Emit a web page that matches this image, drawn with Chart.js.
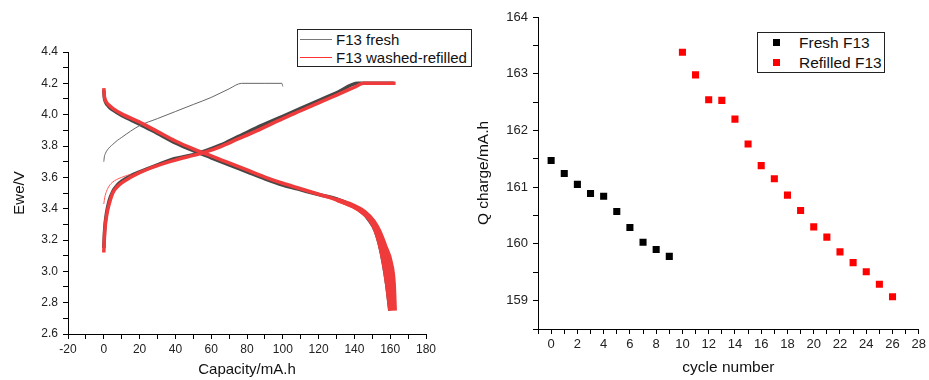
<!DOCTYPE html>
<html>
<head>
<title>F13 fresh vs washed-refilled</title>
<script src="https://cdn.jsdelivr.net/npm/chart.js"></script>
<style>
  body { margin: 0; width: 929px; height: 380px; position: relative; background: #fff; overflow: hidden;
         font-family: "Liberation Sans", Arial, sans-serif; color: #111; }
  #leftBox { position: absolute; left: 0; top: 0; width: 470px; height: 380px; }
  #rightBox { position: absolute; left: 470px; top: 0; width: 459px; height: 380px; }
  .legend { position: absolute; box-sizing: border-box; border: 1px solid #222; background: #fff; z-index: 2; }
  .legend .row { position: absolute; left: 0; height: 18px; line-height: 18px; white-space: nowrap; }
  .legend .line { position: absolute; display: block; left: 2px; width: 32px; top: 8px; height: 1px; }
  .legend .sq { position: absolute; display: block; left: 15px; top: 5px; width: 7px; height: 7px; }
</style>
</head>
<body>
<div id="leftBox"><canvas id="capChart" width="470" height="380"></canvas></div>
<div id="rightBox"><canvas id="cycleChart" width="459" height="380"></canvas></div>

<!-- legends -->
<div class="legend" style="left:297px; top:29px; width:175px; height:38px; font-size:15px;">
  <div class="row" style="top:1px;"><span class="line" style="background-color:#777;"></span><span style="position:absolute; left:38px;">F13 fresh</span></div>
  <div class="row" style="top:19px;"><span class="line" style="background-color:#f33;"></span><span style="position:absolute; left:38px;">F13 washed-refilled</span></div>
</div>
<div class="legend" style="left:757px; top:32px; width:128px; height:41px; font-size:15.5px;">
  <div class="row" style="top:1px;"><span class="sq" style="background-color:#000;"></span><span style="position:absolute; left:41px;">Fresh F13</span></div>
  <div class="row" style="top:21px;"><span class="sq" style="background-color:#f00;"></span><span style="position:absolute; left:41px;">Refilled F13</span></div>
</div>

<script>
// ---- left panel: voltage vs capacity ----
// first charge, fresh cell (thin line)
const freshFirstCap = [0, 0.3, 1, 2, 3.5, 5, 7.5, 10, 15, 20, 30, 40, 50, 60, 70, 77, 90, 99.5, 100];
const freshFirstV   = [3.70, 3.73, 3.755, 3.775, 3.795, 3.81, 3.835, 3.855, 3.895, 3.93, 3.975, 4.02, 4.065, 4.11, 4.165, 4.20, 4.20, 4.20, 4.18];

// fresh cycles, charge + discharge
const freshChargeCap = [0, 0.5, 1.5, 3, 5, 7.5, 10, 15, 20, 30, 40, 50, 57, 65, 75, 85, 100, 110, 120, 130, 142, 150, 162];
const freshChargeV   = [3.15, 3.27, 3.37, 3.45, 3.51, 3.55, 3.575, 3.61, 3.635, 3.68, 3.72, 3.745, 3.77, 3.805, 3.86, 3.915, 3.99, 4.04, 4.09, 4.14, 4.20, 4.20, 4.20];
const freshDisCap = [0, 0.3, 1, 2.5, 5, 10, 20, 30, 40, 50, 60, 70, 80, 90, 100, 110, 120, 130, 138, 144, 148, 151.6, 154, 156.2, 158, 159.8];
const freshDisV   = [4.155, 4.11, 4.08, 4.055, 4.03, 3.995, 3.94, 3.88, 3.82, 3.77, 3.725, 3.68, 3.635, 3.59, 3.55, 3.52, 3.49, 3.462, 3.425, 3.38, 3.33, 3.26, 3.17, 3.05, 2.92, 2.75];

// first charge after washing / refilling (thin line)
const refFirstCap = [0, 0.5, 1.5, 3, 5, 7, 10, 15];
const refFirstV   = [3.43, 3.47, 3.51, 3.545, 3.57, 3.585, 3.60, 3.62];

// refilled cycles, charge + discharge
const refChargeCap = [0, 0.5, 1.5, 3, 5, 7.5, 10, 15, 20, 30, 40, 50, 57, 65, 75, 85, 100, 110, 120, 130, 140, 145, 163];
const refChargeV   = [3.12, 3.25, 3.35, 3.43, 3.50, 3.54, 3.565, 3.60, 3.63, 3.675, 3.71, 3.74, 3.762, 3.795, 3.845, 3.895, 3.975, 4.025, 4.075, 4.125, 4.175, 4.20, 4.20];
const refDisCap = [0, 0.3, 1, 2.5, 5, 10, 20, 30, 40, 50, 60, 70, 80, 90, 100, 110, 120, 130, 139, 145, 149, 151.6, 154, 156.2, 158, 159.8];
const refDisV   = [4.17, 4.12, 4.09, 4.065, 4.04, 4.005, 3.952, 3.892, 3.832, 3.782, 3.737, 3.692, 3.647, 3.602, 3.562, 3.527, 3.492, 3.457, 3.415, 3.37, 3.32, 3.26, 3.17, 3.05, 2.92, 2.75];
// later refilled discharges fan out at the end
const refMid1Cap = [130, 139, 145, 150, 152.5, 155, 157.3, 159.2, 160.5];
const refMid1V   = [3.457, 3.415, 3.372, 3.32, 3.258, 3.165, 3.05, 2.92, 2.75];
const refMid2Cap = [130, 139, 145.5, 150.5, 153.3, 156.3, 159, 160.8, 161.8];
const refMid2V   = [3.458, 3.417, 3.376, 3.32, 3.258, 3.162, 3.05, 2.92, 2.75];
const refLastCap = [130, 140, 146, 151, 154, 157.5, 160.7, 162.2, 162.8];
const refLastV   = [3.46, 3.42, 3.38, 3.32, 3.26, 3.16, 3.05, 2.92, 2.75];

// ---- right panel: charge capacity vs cycle ----
const freshCycles = [0, 1, 2, 3, 4, 5, 6, 7, 8, 9];
const freshQ      = [161.47, 161.24, 161.05, 160.89, 160.84, 160.57, 160.29, 160.03, 159.90, 159.78];
const refCycles = [10, 11, 12, 13, 14, 15, 16, 17, 18, 19, 20, 21, 22, 23, 24, 25, 26];
const refQ      = [163.38, 162.98, 162.54, 162.53, 162.20, 161.76, 161.38, 161.15, 160.86, 160.59, 160.30, 160.12, 159.86, 159.67, 159.51, 159.29, 159.07];

const FONT = '"Liberation Sans", Arial, sans-serif';
const GRAY = '#474747';
const RED = '#ef3b3b';

function pts(xs, ys) {
  return xs.map((x, i) => ({ x: x, y: ys[i] }));
}

// label only the major ticks, minor ones keep their tick mark
function majorOnly(step, digits) {
  return function (value) {
    const r = value / step;
    return Math.abs(r - Math.round(r)) < 1e-6 ? value.toFixed(digits) : '';
  };
}

function curve(label, xs, ys, color, width, order) {
  return {
    label: label,
    data: pts(xs, ys),
    borderColor: color,
    borderWidth: width,
    pointRadius: 0,
    fill: false,
    cubicInterpolationMode: 'monotone',
    order: order
  };
}

function axis(opts) {
  return {
    type: 'linear',
    min: opts.min,
    max: opts.max,
    afterFit: opts.fit,
    ticks: {
      stepSize: opts.step,
      autoSkip: false,
      maxRotation: 0,
      padding: opts.pad,
      color: '#222',
      font: { family: FONT, size: opts.size },
      callback: majorOnly(opts.major, opts.digits)
    },
    grid: { drawOnChartArea: false, tickLength: 5, color: '#000', tickColor: '#000' },
    border: { color: '#000', width: 1 },
    title: { display: true, text: opts.title, color: '#111',
             font: { family: FONT, size: opts.titleSize }, padding: opts.titlePad }
  };
}

new Chart(document.getElementById('capChart'), {
  type: 'line',
  data: {
    datasets: [
      curve('F13 fresh first', freshFirstCap, freshFirstV, '#666', 1, 2),
      curve('F13 fresh charge', freshChargeCap, freshChargeV, GRAY, 3.5, 3),
      curve('F13 fresh discharge', freshDisCap, freshDisV, GRAY, 3.5, 3),
      curve('F13 refilled first', refFirstCap, refFirstV, '#f55', 1, 1),
      curve('F13 refilled charge', refChargeCap, refChargeV, RED, 3.5, 0),
      curve('F13 refilled discharge', refDisCap, refDisV, RED, 3.5, 0),
      curve('F13 refilled discharge 2', refMid1Cap, refMid1V, RED, 4, 0),
      curve('F13 refilled discharge 3', refMid2Cap, refMid2V, RED, 4, 0),
      curve('F13 refilled discharge last', refLastCap, refLastV, RED, 3.5, 0)
    ]
  },
  options: {
    responsive: false,
    animation: false,
    layout: { padding: { top: 52, right: 44, left: 0, bottom: 0 } },
    plugins: { legend: { display: false }, tooltip: { enabled: false } },
    scales: {
      x: axis({ min: -20, max: 180, step: 10, major: 20, digits: 0, pad: 3, size: 12,
                title: 'Capacity/mA.h', titleSize: 15, titlePad: { top: 0, bottom: 1 },
                fit: s => { s.height = 46; } }),
      y: axis({ min: 2.6, max: 4.4, step: 0.1, major: 0.2, digits: 1, pad: 5, size: 12,
                title: 'Ewe/V', titleSize: 15, titlePad: { top: 11, bottom: 0 },
                fit: s => { s.width = 68; } })
    }
  }
});

new Chart(document.getElementById('cycleChart'), {
  type: 'scatter',
  data: {
    datasets: [
      { label: 'Fresh F13', data: pts(freshCycles, freshQ), pointStyle: 'rect',
        pointRadius: 5, backgroundColor: '#000', borderColor: '#000', borderWidth: 0 },
      { label: 'Refilled F13', data: pts(refCycles, refQ), pointStyle: 'rect',
        pointRadius: 5, backgroundColor: '#f00', borderColor: '#f00', borderWidth: 0 }
    ]
  },
  options: {
    responsive: false,
    animation: false,
    layout: { padding: { top: 17, right: 9, left: 0, bottom: 0 } },
    plugins: { legend: { display: false }, tooltip: { enabled: false } },
    scales: {
      x: axis({ min: -1, max: 28, step: 1, major: 2, digits: 0, pad: 3, size: 13,
                title: 'cycle number', titleSize: 15.5, titlePad: { top: 0, bottom: 3 },
                fit: s => { s.height = 51; } }),
      y: axis({ min: 158.5, max: 164, step: 0.5, major: 1, digits: 0, pad: 5, size: 13,
                title: 'Q charge/mA.h', titleSize: 15.5, titlePad: { top: 4, bottom: 0 },
                fit: s => { s.width = 68; } })
    }
  }
});
</script>
</body>
</html>
